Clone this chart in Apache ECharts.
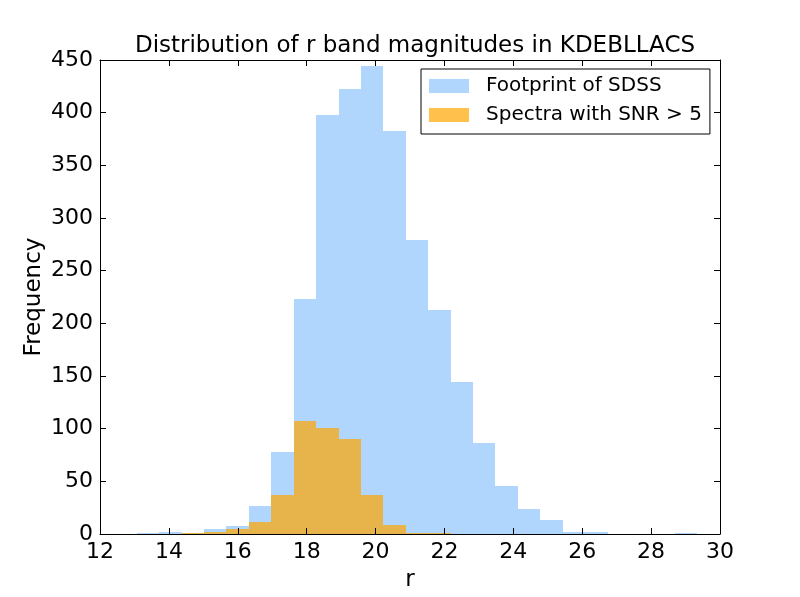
<!DOCTYPE html>
<html>
<head>
<meta charset="utf-8">
<script src="https://cdn.jsdelivr.net/npm/echarts@6/dist/echarts.min.js"></script>
<style>
  html, body { margin: 0; padding: 0; background: #fff; }
  #chart { width: 800px; height: 597px; }
</style>
</head>
<body>
<div id="chart"></div>
<script>
// histogram bins shared by both series (25 bins)
const binStart = 13.066
const binWidth = 0.651
const footprintCounts = [1, 2, 1, 5, 8, 27, 78, 223, 398, 422, 444, 383, 279, 213, 144, 86, 46, 24, 13, 2, 2, 0, 0, 0, 1]
const spectraCounts = [0, 0, 1, 2, 5, 11, 37, 107, 101, 90, 37, 9, 1, 1, 0, 0, 0, 0, 0, 0, 0, 0, 0, 0, 0]
const seriesNames = ['Footprint of SDSS', 'Spectra with SNR > 5']
const xTicks = { min: 12, max: 30, interval: 2 }
const yTicks = { min: 0, max: 450, interval: 50 }

const FONT = 'DejaVu Sans'

function toBins(counts) {
  return counts.map((c, i) => {
    const x0 = binStart + i * binWidth
    return [x0, x0 + binWidth, c]
  })
}

// snap to whole pixels so neighbouring bins meet without seams
function renderBar(params, api) {
  const top = api.coord([api.value(0), api.value(2)])
  const bottom = api.coord([api.value(1), 0])
  const x0 = Math.round(top[0])
  const x1 = Math.round(bottom[0])
  const y0 = Math.round(top[1])
  const y1 = Math.round(bottom[1])
  return {
    type: 'rect',
    shape: { x: x0, y: y0, width: x1 - x0, height: y1 - y0 },
    style: api.style()
  }
}

const frame = { show: true, onZero: false, lineStyle: { color: '#000', width: 1 } }
const tick = { show: true, inside: true, length: 6, lineStyle: { color: '#000', width: 1 } }

const chart = echarts.init(document.getElementById('chart'))
chart.setOption({
  animation: false,
  backgroundColor: '#fff',
  title: {
    text: 'Distribution of r band magnitudes in KDEBLLACS',
    left: 410,
    textAlign: 'center',
    top: 30,
    textStyle: { fontFamily: FONT, fontSize: 23, fontWeight: 'normal', color: '#000' }
  },
  legend: {
    data: seriesNames,
    orient: 'vertical',
    left: 421,
    top: 69,
    icon: 'rect',
    itemWidth: 40,
    itemHeight: 14,
    itemGap: 9,
    padding: [7, 8, 9, 8],
    borderColor: '#000',
    borderWidth: 1,
    backgroundColor: '#fff',
    textStyle: { fontFamily: FONT, fontSize: 20, color: '#000', lineHeight: 14, padding: [0, 0, 0, 12] }
  },
  grid: { left: 100, right: 80, top: 60, bottom: 60 },
  xAxis: [
    {
      type: 'value', ...xTicks, z: 10,
      name: 'r', nameLocation: 'middle', nameGap: 35, nameMoveOverlap: false,
      nameTextStyle: { fontFamily: FONT, fontSize: 23, color: '#000' },
      axisLine: frame, axisTick: tick, splitLine: { show: false },
      axisLabel: { fontFamily: FONT, fontSize: 22, color: '#000', margin: 7 }
    },
    {
      type: 'value', ...xTicks, z: 10, position: 'top',
      axisLine: frame, axisTick: tick, splitLine: { show: false },
      axisLabel: { show: false }
    }
  ],
  yAxis: [
    {
      type: 'value', ...yTicks, z: 10,
      name: 'Frequency', nameLocation: 'middle', nameGap: 54, nameRotate: 90, nameMoveOverlap: false,
      nameTextStyle: { fontFamily: FONT, fontSize: 23, color: '#000' },
      axisLine: frame, axisTick: tick, splitLine: { show: false },
      axisLabel: { fontFamily: FONT, fontSize: 22, color: '#000', margin: 7 }
    },
    {
      type: 'value', ...yTicks, z: 10, position: 'right',
      axisLine: frame, axisTick: tick, splitLine: { show: false },
      axisLabel: { show: false }
    }
  ],
  series: [
    {
      name: seriesNames[0],
      type: 'custom',
      renderItem: renderBar,
      encode: { x: [0, 1], y: 2 },
      itemStyle: { color: '#b0d6fd' },
      data: toBins(footprintCounts)
    },
    {
      name: seriesNames[1],
      type: 'custom',
      renderItem: renderBar,
      encode: { x: [0, 1], y: 2 },
      itemStyle: { color: 'rgba(255,165,0,0.7)' },
      data: toBins(spectraCounts)
    }
  ]
})
</script>
</body>
</html>
